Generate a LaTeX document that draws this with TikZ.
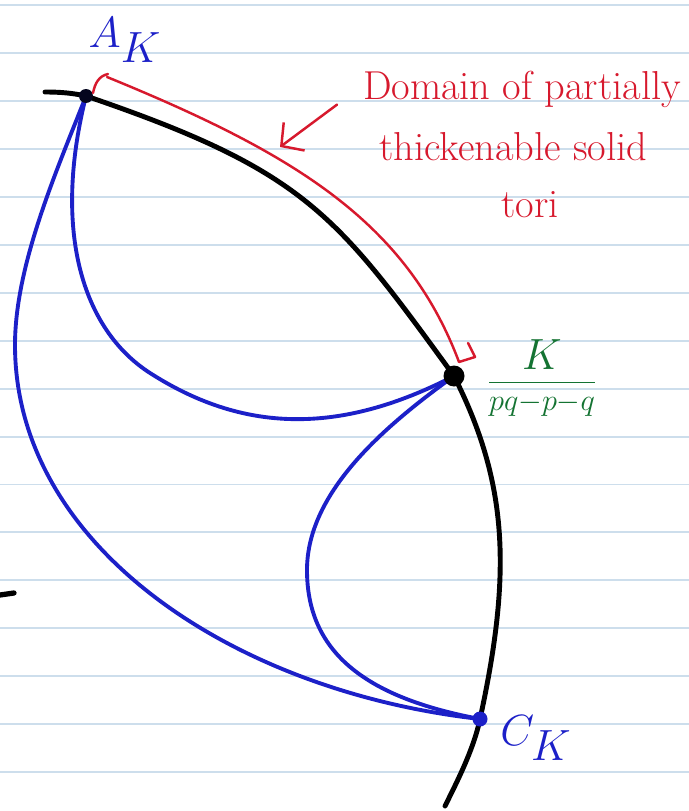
\documentclass[tikz,border=0pt]{standalone}
\usepackage{amsmath,amssymb}
\usepackage{xcolor}
\usepackage{tikz}
\usetikzlibrary{arrows.meta, positioning, calc}
\definecolor{penblue}{RGB}{28,32,200}
\definecolor{penred}{RGB}{215,25,45}
\definecolor{pengreen}{RGB}{20,115,50}
\definecolor{ruling}{RGB}{205,222,236}

\begin{document}
\begin{tikzpicture}[x=0.02cm, y=-0.02cm,
  ruled/.style={draw=ruling, line width=1.1pt},
  boundary/.style={draw=black, line width=2.8pt, line cap=round},
  arc/.style={draw=penblue, line width=2.2pt, line cap=round},
  bracket/.style={draw=penred, line width=1.4pt, line cap=round, line join=round},
  dot/.style={circle, fill, inner sep=0pt},
  note/.style={text=penred, font=\fontsize{23}{26}\selectfont, anchor=base}]

  \useasboundingbox (0,0) rectangle (689,811);
  \fill[white] (0,0) rectangle (689,811);
  \foreach \k in {0,...,16}
    \draw[ruled] (0,5+47.95*\k) -- (689,5+47.95*\k);

  \coordinate (bstart) at (45,92);
  \coordinate (ak) at (86,96);
  \coordinate (kp) at (454,376);
  \coordinate (ck) at (480,719);
  \coordinate (bend) at (445,806);

  % the black boundary curve
  \draw[boundary] (bstart) .. controls (60,92) and (72,93) .. (ak)
    .. controls (306,171) and (336,214) .. (kp)
    .. controls (508,483) and (512,572) .. (ck)
    .. controls (474,748) and (458,780) .. (bend);

  % blue arcs
  \draw[arc] (ak) .. controls (57,170) and (15,265) .. (15,345)
    .. controls (15,545) and (231,691) .. (ck);
  \draw[arc] (ak) .. controls (52,232) and (83,330) .. (150,373)
    .. controls (242,432) and (338,436) .. (kp);
  \draw[arc] (kp) .. controls (389,423) and (307,490) .. (307,570)
    .. controls (307,650) and (362,697) .. (ck);

  \node[dot, fill=black!85!penblue, minimum size=0.28cm] (akdot) at (ak) {};
  \node[dot, fill=black, minimum size=0.42cm] (kpdot) at (kp) {};
  \node[dot, fill=penblue, minimum size=0.3cm] (ckdot) at (ck) {};

  \node[text=penblue, font=\fontsize{34}{36}\selectfont] (aklabel) at (125,40) {$A_K$};
  \node[text=penblue, font=\fontsize{34}{36}\selectfont] (cklabel) at (536,738) {$C_K$};
  \node[text=pengreen, font=\fontsize{18}{20}\selectfont] (slope) at (542,378)
    {$\dfrac{\mbox{\fontsize{32}{32}\selectfont$K$}}{pq{-}p{-}q}$};

  % red bracket along the black curve
  \draw[bracket] (93,93) .. controls (95,83) and (99,76) .. (108,74);
  \draw[bracket] (107,77) .. controls (293,153) and (406,221) .. (459,362)
    -- (475,357) -- (468,343);

  \node[note] (line1) at (522,100) {Domain of partially};
  \node[note] (line2) at (513,160) {thickenable solid};
  \node[note] (line3) at (530,217) {tori};
  \coordinate (tip) at (280,147);
  \draw[bracket, -{Straight Barb[length=3.2mm, width=7mm]}, shorten <=14pt]
    (line1.west) -- (tip);

  \draw[line width=3pt, line cap=round] (0,595) -- (14,593);
\end{tikzpicture}
\end{document}
